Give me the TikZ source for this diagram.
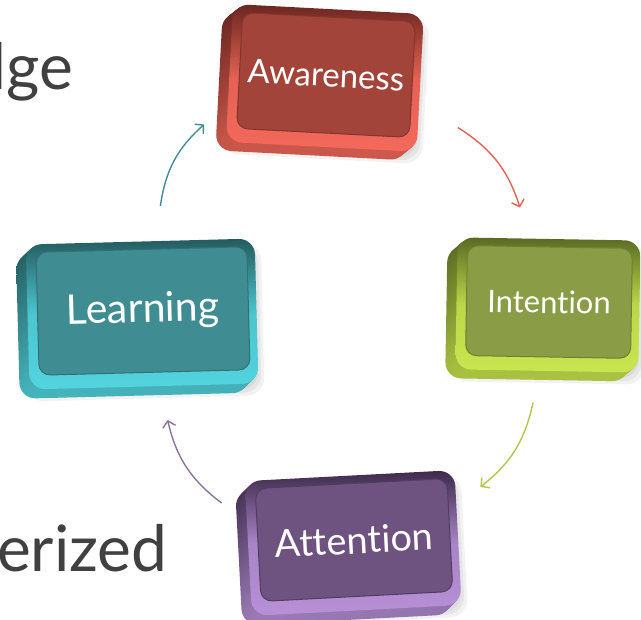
\documentclass[tikz,border=0pt]{standalone}
\usepackage{fontspec}
\setmainfont{Lato}[Ligatures=NoCommon]
\usetikzlibrary{arrows.meta}
\definecolor{awaremain}{HTML}{A3443A}
\definecolor{awarelight}{HTML}{F4695B}
\definecolor{awaredark}{HTML}{6A2620}
\definecolor{intenmain}{HTML}{8A9C46}
\definecolor{intenlight}{HTML}{C8E64E}
\definecolor{intendark}{HTML}{5A6A22}
\definecolor{learnmain}{HTML}{3F8D92}
\definecolor{learnlight}{HTML}{52D4DE}
\definecolor{learndark}{HTML}{235A5E}
\definecolor{attenmain}{HTML}{6E5381}
\definecolor{attenlight}{HTML}{B790D6}
\definecolor{attendark}{HTML}{3C2A4A}
\definecolor{slidetext}{HTML}{404040}

% raised key: #1 name, #2 centre, #3 tilt, #4 width, #5 height, #6 colour, #7 font size, #8 text
\newcommand{\raisedkey}[8]{%
  \begin{scope}[shift={#2},rotate=#3]
    \foreach \s in {0,3,6}
      \fill[black,opacity=.05,rounded corners=18pt] (-#4/2-14+\s,-#5/2-26+\s) rectangle (#4/2+14-\s,#5/2+4-\s);
    \foreach \k in {10,...,1}
      \shade[top color=#6dark,bottom color=#6light!85!black,rounded corners=16pt]
        (-#4/2-10-\k,-#5/2-14-0.9*\k) rectangle (#4/2+8-\k,#5/2+8-0.9*\k);
    \shade[top color=#6dark,bottom color=#6light,middle color=#6light!88!#6dark,rounded corners=16pt]
      (-#4/2-10,-#5/2-14) rectangle (#4/2+8,#5/2+8);
  \end{scope}
  \node[keyface=#6,rotate=#3,minimum width=#4pt,minimum height=#5pt,
    font=\fontsize{#7}{#7}\selectfont] (#1) at #2 {#8};
}

\begin{document}
\begin{tikzpicture}[x=1pt,y=1pt,
  keyface/.style={rectangle,rounded corners=11pt,fill=#1main,draw=#1dark!55!#1main,line width=1pt,text=white,inner sep=0pt},
  cyc/.style={-{Straight Barb[length=6pt,width=13pt]},line width=1.4pt,bend left=20},
  tag/.style={font=\fontsize{64}{64}\selectfont,text=slidetext,inner sep=0pt}
]
\fill[white] (0,0) rectangle (641,620);
\useasboundingbox (0,0) rectangle (641,620);
\node[tag,anchor=base east] (tagtop) at (73,530) {dge};
\node[tag,anchor=base west] (tagbot) at (-3,48) {erized};
\raisedkey{aware}{(326,545)}{-3}{173}{116}{aware}{33}{Awareness}
\raisedkey{inten}{(549,318)}{-1}{165}{110}{inten}{31}{Intention}
\raisedkey{learn}{(143,309)}{1.5}{211}{123}{learn}{41}{Learning}
\raisedkey{atten}{(354,80)}{3}{192}{113}{atten}{38}{Attention}
\draw[cyc,draw=learnmain] ([shift={(19,43)}]learn.north) to ([shift={(-35,-54)}]aware.west);
\draw[cyc,draw=awarelight!80!awaremain] ([shift={(45,-48)}]aware.east) to ([shift={(-30,39)}]inten.north);
\draw[cyc,draw=intenlight!60!intenmain] ([shift={(-15,-45)}]inten.south) to ([shift={(30,48)}]atten.east);
\draw[cyc,draw=attenmain!80!white] ([shift={(-36,42)}]atten.west) to ([shift={(23,-47)}]learn.south);
\end{tikzpicture}
\end{document}
